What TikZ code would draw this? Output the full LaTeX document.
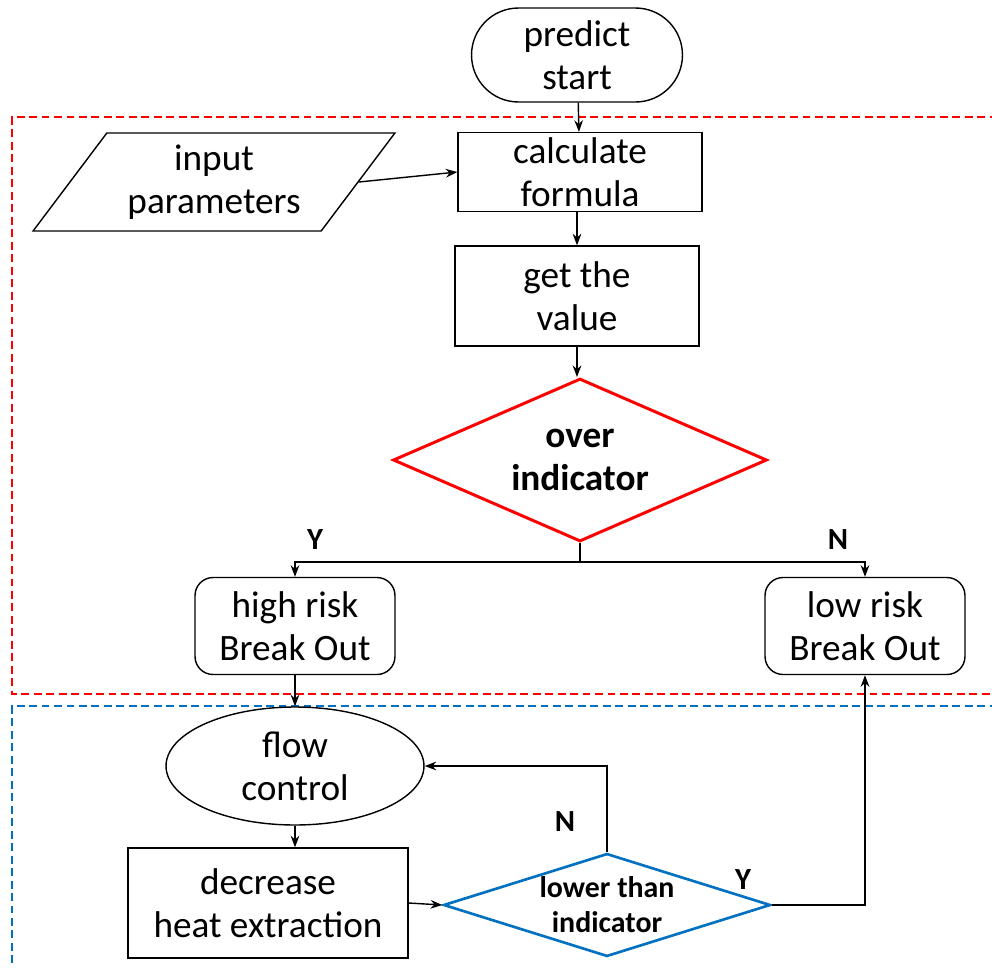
\documentclass[tikz,border=0pt]{standalone}
\usepackage{fontspec}
\setmainfont{Carlito}
\usepackage{tikz}
\usepackage{xcolor}
\usetikzlibrary{arrows.meta, shapes.geometric, shapes.misc}
\definecolor{BoxRed}{HTML}{FF0000}
\definecolor{BoxBlue}{HTML}{0070C0}

\begin{document}
\begin{tikzpicture}[x=0.02cm, y=-0.02cm, >=Stealth,
    every node/.style={font=\fontsize{21.2}{24.6}\selectfont, align=center},
    flowbox/.style={draw, line width=0.8pt, rectangle, inner sep=1pt},
    riskbox/.style={flowbox, rounded corners=0.36cm, minimum width=4cm, minimum height=1.94cm},
    decision/.style={draw, diamond, aspect=2.3, inner sep=1pt},
    yesno/.style={font=\fontsize{17.5}{20}\selectfont\bfseries},
    link/.style={->, line width=0.8pt}]
    \useasboundingbox (0,0) rectangle (992,968);

    % Dashed frames around the two stages
    \draw[BoxRed, dashed, line width=1.1pt, dash pattern=on 4.5pt off 2.6pt] (1010,117) -- (12,117) -- (12,694) -- (1010,694);
    \draw[BoxBlue, dashed, line width=1.1pt, dash pattern=on 4.5pt off 2.6pt] (1010,706) -- (12,706) -- (12,990);

    % Upper stage
    \node[flowbox, rounded corners=0.94cm, minimum width=4.22cm, minimum height=1.88cm] (start) at (577,55) {predict\\start};
    \node[draw, line width=0.8pt, trapezium, trapezium left angle=53.7, trapezium right angle=126.3,
          trapezium stretches=true, minimum width=7.24cm, minimum height=1.96cm] (input) at (214,182) {input\\parameters};
    \node[flowbox, minimum width=4.88cm, minimum height=1.58cm] (calc) at (580,172) {calculate\\formula};
    \node[flowbox, minimum width=4.88cm, minimum height=2cm] (value) at (577,296) {get the\\value};
    \node[decision, BoxRed, line width=1.7pt, minimum width=7.48cm, minimum height=3.26cm,
          font=\fontsize{21.2}{24.6}\selectfont\bfseries, text=black] (over) at (580,460) {over\\indicator};
    \node[riskbox] (high) at (295,626) {high risk\\Break Out};
    \node[riskbox] (low) at (865,626) {low risk\\Break Out};

    % Lower stage
    \node[draw, line width=0.8pt, ellipse, minimum width=5.16cm, minimum height=2.36cm, inner sep=1pt] (flow) at (295,766) {flow\\control};
    \node[flowbox, minimum width=5.6cm, minimum height=2.2cm] (decr) at (268,903) {decrease\\heat extraction};
    \node[decision, BoxBlue, line width=1.5pt, minimum width=6.54cm, minimum height=2.06cm,
          label={[font=\fontsize{17}{19.8}\selectfont\bfseries, align=center]center:{lower than\\indicator}}] (lower) at (607,905) {};

    % Branch labels
    \node[yesno] (overY) at (315,540) {Y};
    \node[yesno] (overN) at (838,540) {N};
    \node[yesno] (lowerN) at (565,822) {N};
    \node[yesno] (lowerY) at (743,880) {Y};

    % Connectors
    \draw[link] (start) -- (calc);
    \draw[link] (input.east) -- (calc.west);
    \draw[link] (value.north |- calc.south) -- (value.north);
    \draw[link] (value.south) -- (value.south |- over.north);
    \draw[line width=0.8pt] (over.south) -- ++(0,19) coordinate (split);
    \draw[link] (split) -| (high.north);
    \draw[link] (split) -| (low.north);
    \draw[link] (high.south) -- (flow.north);
    \draw[link] (flow.south) -- (flow.south |- decr.north);
    \draw[link] (decr.east) -- (lower.west);
    \draw[link] (lower.north) |- (flow.east);
    \draw[link] (lower.east) -| (low.south);
\end{tikzpicture}
\end{document}
